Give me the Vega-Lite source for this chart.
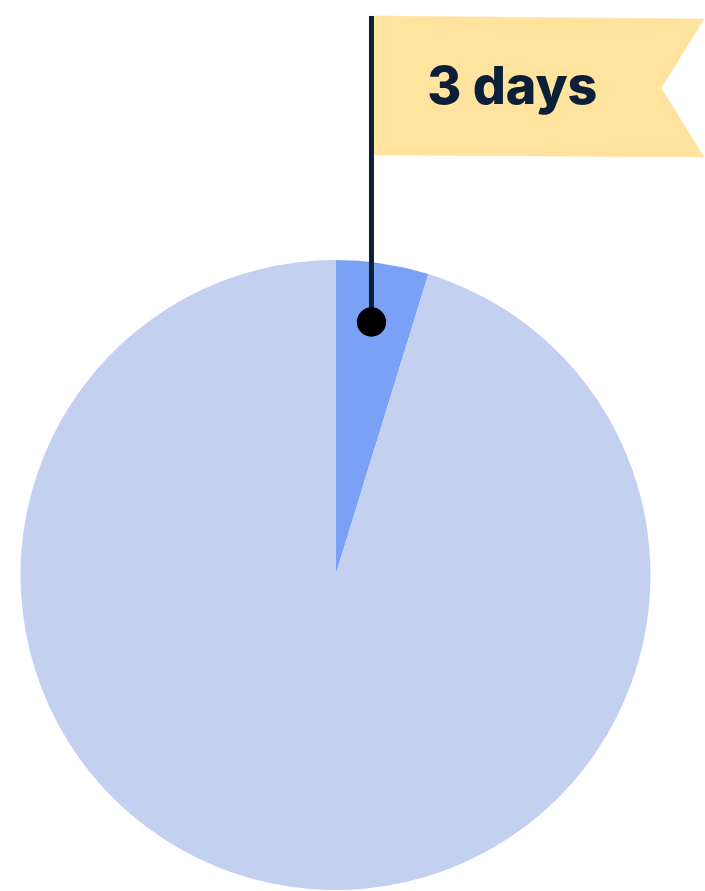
{
  "$schema": "https://vega.github.io/schema/vega-lite/v6.json",
  "width": 705,
  "height": 891,
  "padding": 0,
  "autosize": {"type": "fit", "contains": "padding"},
  "background": "#ffffff",
  "config": {"view": {"stroke": null}},
  "datasets": {
    "pie": [
      {"label": "3 days", "days": 3, "order": 1},
      {"label": "other days", "days": 60, "order": 2}
    ],
    "flag": [
      {"i": 1, "x": 372, "y": 16},
      {"i": 2, "x": 705, "y": 19},
      {"i": 3, "x": 662, "y": 88},
      {"i": 4, "x": 705, "y": 157},
      {"i": 5, "x": 372, "y": 155},
      {"i": 6, "x": 372, "y": 16}
    ],
    "pole": [{"x": 372, "y": 16, "y2": 322}],
    "dot": [{"x": 372, "y": 322}],
    "label": [{"x": 513, "y": 104, "text": "3 days"}]
  },
  "layer": [
    {
      "data": {"name": "pie"},
      "mark": {"type": "arc", "outerRadius": 315},
      "encoding": {
        "x": {"datum": 336, "type": "quantitative", "scale": {"domain": [0, 705], "nice": false, "zero": false}, "axis": null},
        "y": {"datum": 575, "type": "quantitative", "scale": {"domain": [891, 0], "nice": false, "zero": false}, "axis": null},
        "theta": {"field": "days", "type": "quantitative", "stack": true},
        "order": {"field": "order", "type": "quantitative"},
        "color": {"field": "label", "type": "nominal", "scale": {"domain": ["3 days", "other days"], "range": ["#7BA1F6", "#C3D0F0"]}, "legend": null}
      }
    },
    {
      "data": {"name": "flag"},
      "mark": {"type": "line", "fill": "#FFE39E", "stroke": "#FFE39E", "strokeWidth": 0.5},
      "encoding": {
        "x": {"field": "x", "type": "quantitative", "axis": null},
        "y": {"field": "y", "type": "quantitative", "axis": null},
        "order": {"field": "i", "type": "quantitative"}
      }
    },
    {
      "data": {"name": "pole"},
      "mark": {"type": "rule", "color": "#0B1F38", "strokeWidth": 5},
      "encoding": {
        "x": {"field": "x", "type": "quantitative", "axis": null},
        "y": {"field": "y", "type": "quantitative", "axis": null},
        "y2": {"field": "y2"}
      }
    },
    {
      "data": {"name": "dot"},
      "mark": {"type": "point", "filled": true, "color": "#000000", "opacity": 1, "size": 860, "shape": "circle"},
      "encoding": {
        "x": {"field": "x", "type": "quantitative", "axis": null},
        "y": {"field": "y", "type": "quantitative", "axis": null}
      }
    },
    {
      "data": {"name": "label"},
      "mark": {"type": "text", "font": "Inter", "fontWeight": 800, "fontSize": 52, "color": "#0B1F38", "align": "center", "baseline": "alphabetic"},
      "encoding": {
        "x": {"field": "x", "type": "quantitative", "axis": null},
        "y": {"field": "y", "type": "quantitative", "axis": null},
        "text": {"field": "text"}
      }
    }
  ]
}
